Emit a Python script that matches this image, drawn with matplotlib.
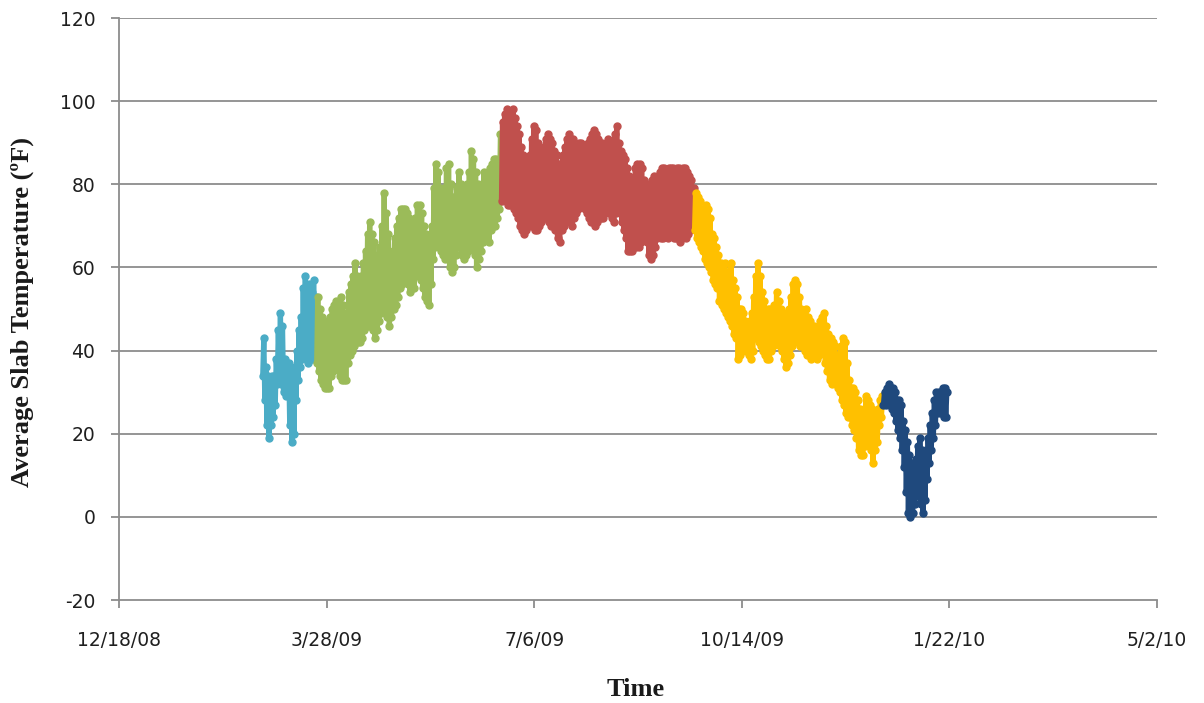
import numpy as np
import matplotlib
matplotlib.use("Agg")
import matplotlib.pyplot as plt

# ---------------- data (daily high / low of average slab temperature, deg F) ----------------
season_starts = ["2009-02-25", "2009-03-23", "2009-06-20", "2009-09-21", "2009-12-21"]
season_colors = ["#4BACC6", "#9BBB59", "#C0504D", "#FFC000", "#1F497D"]

winter1_hi = [43, 36, 34, 33, 34, 34, 38, 45, 49, 46, 38, 36, 37, 35, 33, 36, 40, 45, 48, 55,
              58, 53, 56, 54, 57, 53]
winter1_lo = [34, 28, 22, 19, 22, 24, 27, 32, 34, 32, 30, 29, 30, 22, 18, 20, 28, 33, 36, 38,
              40, 38, 37, 38, 38, 40]

spring_hi = [53, 50, 48, 47, 46, 46, 48, 50, 51, 52,
             51, 53, 51, 49, 47, 54, 56, 58, 61, 58,
             57, 58, 61, 64, 68, 71, 68, 66, 62, 63,
             65, 70, 78, 73, 68, 62, 64, 67, 70, 72,
             74, 74, 74, 73, 72, 71, 71, 72, 75, 75,
             73, 70, 68, 67, 66, 70, 79, 85, 83, 79,
             76, 79, 84, 85, 80, 77, 77, 79, 83, 80,
             78, 79, 80, 83, 88, 86, 83, 80, 78, 80,
             83, 82, 83, 84, 85, 86, 86, 84, 92]
spring_lo = [37, 35, 33, 32, 31, 31, 31, 34, 35, 36,
             37, 34, 33, 33, 33, 37, 39, 40, 41, 42,
             42, 42, 43, 45, 46, 46, 46, 45, 43, 45,
             47, 49, 50, 49, 48, 46, 48, 50, 51, 53,
             55, 56, 57, 57, 56, 54, 55, 55, 58, 59,
             57, 55, 53, 52, 51, 56, 62, 65, 66, 65,
             64, 63, 62, 62, 60, 59, 60, 63, 66, 65,
             63, 62, 63, 64, 67, 65, 63, 60, 62, 64,
             66, 67, 67, 66, 69, 70, 70, 72, 74]

summer_hi = [95, 97, 98, 96, 97, 98, 96, 94, 92, 89,
             87, 86, 84, 87, 91, 94, 93, 90, 88, 86,
             89, 91, 92, 91, 90, 88, 87, 85, 84, 87,
             89, 91, 92, 91, 91, 89, 89, 90, 90, 89,
             89, 90, 91, 92, 93, 92, 91, 90, 90, 89,
             89, 91, 90, 89, 92, 94, 90, 88, 87, 86,
             84, 82, 81, 80, 84, 85, 85, 84, 81, 80,
             79, 80, 81, 82, 81, 82, 83, 84, 84, 83,
             84, 84, 84, 83, 84, 84, 83, 84, 84, 83,
             82, 81, 79]
summer_lo = [76, 77, 76, 75, 75, 76, 74, 73, 72, 70,
             69, 68, 69, 70, 70, 70, 69, 69, 70, 71,
             72, 72, 73, 71, 70, 72, 69, 67, 66, 69,
             70, 71, 72, 71, 70, 72, 73, 74, 76, 75,
             74, 73, 72, 71, 71, 70, 71, 72, 72, 72,
             73, 74, 73, 72, 71, 73, 74, 73, 71, 69,
             67, 64, 64, 64, 66, 65, 65, 66, 68, 67,
             66, 63, 62, 63, 65, 67, 68, 67, 67, 68,
             67, 68, 69, 67, 67, 67, 66, 67, 68, 67,
             68, 69, 70]

fall_hi = [78, 77, 76, 74, 73, 75, 74, 72, 68, 67,
           65, 63, 61, 60, 61, 59, 59, 61, 57, 55,
           53, 50, 50, 49, 47, 46, 47, 49, 53, 58,
           61, 58, 54, 52, 49, 50, 50, 48, 51, 54,
           52, 50, 49, 47, 48, 50, 53, 56, 57, 56,
           53, 50, 49, 50, 48, 47, 46, 46, 45, 45,
           47, 48, 49, 46, 44, 43, 42, 41, 39, 37,
           41, 43, 42, 37, 33, 31, 31, 30, 28, 26,
           25, 26, 29, 28, 27, 26, 24, 25, 26, 28,
           29]
fall_lo = [69, 67, 66, 65, 64, 62, 61, 60, 59, 57,
           56, 55, 52, 51, 50, 49, 48, 47, 46, 44,
           43, 38, 39, 40, 42, 40, 39, 38, 40, 43,
           44, 42, 41, 40, 39, 38, 38, 40, 41, 42,
           42, 41, 40, 38, 36, 37, 39, 41, 42, 43,
           42, 41, 41, 40, 39, 39, 38, 40, 39, 38,
           39, 40, 40, 37, 35, 33, 32, 33, 32, 31,
           30, 28, 27, 25, 24, 24, 22, 21, 19, 16,
           15, 15, 17, 18, 18, 16, 13, 16, 18, 22,
           24]

winter2_hi = [30, 31, 32, 31, 31, 30, 28, 28, 27, 23,
              21, 18, 15, 13, 12, 14, 17, 19, 16, 13,
              16, 19, 22, 25, 28, 30, 30, 30, 31, 31,
              30]
winter2_lo = [27, 27, 28, 27, 26, 25, 23, 21, 19, 16,
              12, 6, 1, 0, 1, 3, 5, 6, 3, 1,
              4, 9, 13, 16, 19, 22, 25, 25, 25, 24,
              24]

x_tick_dates = ["2008-12-18", "2009-03-28", "2009-07-06", "2009-10-14", "2010-01-22", "2010-05-02"]
x_tick_labels = ["12/18/08", "3/28/09", "7/6/09", "10/14/09", "1/22/10", "5/2/10"]
y_ticks = [-20, 0, 20, 40, 60, 80, 100, 120]

series_hi = [winter1_hi, spring_hi, summer_hi, fall_hi, winter2_hi]
series_lo = [winter1_lo, spring_lo, summer_lo, fall_lo, winter2_lo]

# ---------------- figure ----------------
W, H = 1204, 703
fig = plt.figure(figsize=(W / 100, H / 100), dpi=100)
fig.patch.set_facecolor("white")
ax = fig.add_axes([119 / W, 1 - 600 / H, (1157 - 119) / W, (600 - 18) / H])

grid_c = "#8C8C8C"

for start, hi, lo, color in zip(season_starts, series_hi, series_lo, season_colors):
    n = len(hi)
    base = np.datetime64(start, "m") + (np.arange(n) * 1440).astype("timedelta64[m]")
    t = np.empty(2 * n, dtype="datetime64[m]")
    t[0::2] = base + np.timedelta64(6 * 60, "m")
    t[1::2] = base + np.timedelta64(18 * 60, "m")
    v = np.empty(2 * n)
    v[0::2] = lo
    v[1::2] = hi
    ax.plot(t, v, color=color, lw=3.8, marker="o", ms=5.0, mec=color, mfc=color,
            zorder=3, solid_joinstyle="round", solid_capstyle="round")

ax.set_xlim(np.datetime64(x_tick_dates[0]), np.datetime64(x_tick_dates[-1]))
ax.set_ylim(-20, 120)
ax.set_xticks([np.datetime64(d) for d in x_tick_dates])
ax.set_xticklabels(x_tick_labels)
ax.set_yticks(y_ticks)
ax.set_yticklabels([str(v) for v in y_ticks])

for y in y_ticks[1:]:
    ax.axhline(y, color=grid_c, lw=1.3, zorder=1)

for s in ["top", "right"]:
    ax.spines[s].set_visible(False)
for s in ["left", "bottom"]:
    ax.spines[s].set_color(grid_c)
    ax.spines[s].set_linewidth(1.3)

ax.tick_params(axis="both", direction="out", length=6, width=1.3, color=grid_c,
               labelsize=13.5, labelcolor="#1f1f1f")
ax.tick_params(axis="y", pad=11)
ax.tick_params(axis="x", pad=16)
for lab in ax.get_xticklabels() + ax.get_yticklabels():
    lab.set_fontfamily("DejaVu Sans")

fig.text(22 / W, 1 - 312 / H, "Average Slab Temperature (ºF)", rotation=90,
         ha="center", va="center", fontsize=19, fontweight="bold",
         family="Liberation Serif", color="#1a1a1a")
fig.text(636 / W, 1 - 690 / H, "Time", ha="center", va="center", fontsize=19,
         fontweight="bold", family="Liberation Serif", color="#1a1a1a")

fig.savefig("out.png", dpi=100, facecolor="white")
